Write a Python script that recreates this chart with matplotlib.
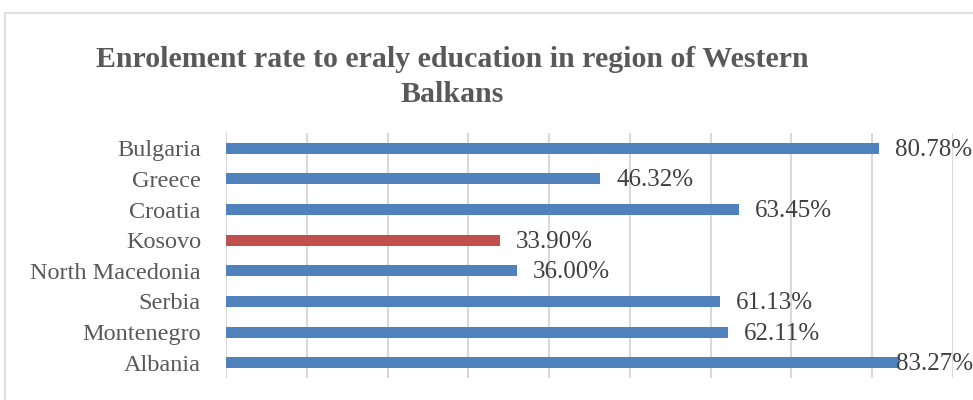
import matplotlib.pyplot as plt
from matplotlib.patches import Rectangle

countries = ["Albania", "Montenegro", "Serbia", "North Macedonia",
             "Kosovo", "Croatia", "Greece", "Bulgaria"]
rates = [83.27, 62.11, 61.13, 36.00, 33.90, 63.45, 46.32, 80.78]
highlight = "Kosovo"
title = "Enrolement rate to eraly education in region of Western\nBalkans"

blue = "#4f81bd"
red = "#c0504d"
serif = ["Liberation Serif", "DejaVu Serif"]

fig = plt.figure(figsize=(9.73, 4.0), dpi=100)
fig.patches.append(Rectangle((5 / 973, -0.1), 1.2, 1 - 13 / 400 + 0.1,
                             transform=fig.transFigure, fill=False,
                             edgecolor="#d9d9d9", linewidth=1.2))

ax = fig.add_axes([226 / 973, 22 / 400, (953 - 226) / 973, (378 - 133) / 400])
colors = [red if c == highlight else blue for c in countries]
ax.barh(countries, rates, height=0.36, color=colors, zorder=3)

ax.set_xlim(0, 90)
ax.set_ylim(-0.5, len(countries) - 0.5)
ax.set_xticks(range(0, 91, 10))
ax.tick_params(axis="x", length=0, labelbottom=False)
ax.tick_params(axis="y", length=0, pad=18, labelsize=17.5, labelcolor="#595959")
for lbl in ax.get_yticklabels():
    lbl.set_family(serif)
ax.grid(axis="x", color="#d9d9d9", linewidth=1.5, zorder=0)
for s in ax.spines.values():
    s.set_visible(False)

for i, v in enumerate(rates):
    ax.text(min(v + 2.0, 82.9), i - 0.05, f"{v:.2f}%", va="center", ha="left",
            fontsize=18, color="#404040", family=serif, zorder=4)

fig.text(452 / 973, 1 - 77 / 400, title, ha="center", va="center",
         fontsize=21.5, fontweight="bold", color="#595959", family=serif,
         linespacing=1.38)

fig.savefig("out.png", dpi=100)
